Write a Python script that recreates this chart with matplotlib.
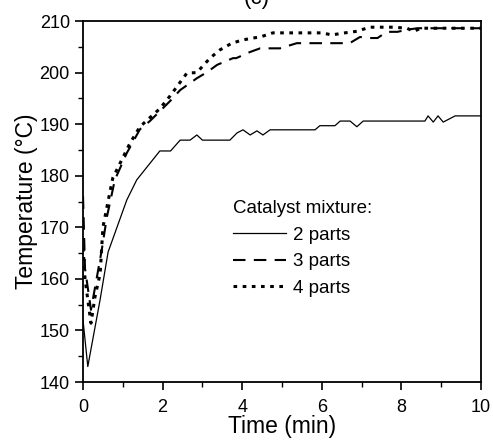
import matplotlib
matplotlib.use("Agg")
import matplotlib.pyplot as plt
from matplotlib.ticker import MultipleLocator

plt.rcParams['font.family'] = ['Liberation Sans', 'DejaVu Sans']

# 2 parts catalyst (solid)
t_two = [0.0, 0.12, 0.43, 0.63, 1.1, 1.35, 1.93, 2.2, 2.44, 2.69, 2.86, 3.0, 3.69,
         3.87, 4.02, 4.2, 4.37, 4.52, 4.7, 5.83, 5.95, 6.33, 6.46, 6.71, 6.88, 7.04,
         8.59, 8.67, 8.8, 8.92, 9.05, 9.35, 10.0]
temp_two = [152, 143, 156, 165.2, 175.3, 179.2, 184.8, 184.8, 186.9, 186.9, 187.9, 186.9, 186.9,
            188.3, 188.9, 187.9, 188.7, 187.9, 188.9, 188.9, 189.7, 189.7, 190.6, 190.6, 189.5, 190.6,
            190.6, 191.6, 190.4, 191.6, 190.4, 191.6, 191.6]

# 3 parts catalyst (dashed)
t_three = [0.0, 0.05, 0.2, 0.35, 0.47, 0.6, 0.8, 1.1, 1.43, 1.68, 1.93, 2.19, 2.44, 2.86,
           3.12, 3.37, 3.77, 3.85, 4.2, 4.45, 4.95, 5.37, 5.7, 6.2, 6.7, 6.96, 7.2, 7.4,
           7.63, 7.9, 8.14, 8.4, 10.0]
temp_three = [176, 162, 154, 160.4, 165.6, 172, 179.2, 184.4, 189.0, 190.6, 192.5, 194.5, 196.6, 198.9,
              200.1, 201.5, 202.8, 202.8, 204.0, 204.7, 204.7, 205.7, 205.7, 205.7, 205.7, 206.9, 206.7, 206.7,
              207.9, 207.9, 208.3, 208.6, 208.6]

# 4 parts catalyst (dotted)
t_four = [0.0, 0.05, 0.2, 0.3, 0.43, 0.5, 0.68, 0.75, 1.18, 1.43, 1.93, 2.19, 2.61, 2.86,
          3.19, 3.44, 3.74, 4.0, 4.27, 4.45, 4.77, 5.1, 5.75, 6.0, 6.25, 6.58, 6.88, 7.2,
          7.8, 8.14, 8.3, 8.5, 10.0]
temp_four = [166, 160, 151.4, 156.5, 161, 170, 177, 179.6, 186.3, 189.5, 193.0, 195.5, 199.9, 200.0,
             202.8, 204.4, 205.7, 206.3, 206.7, 206.9, 207.7, 207.7, 207.7, 207.7, 207.3, 207.7, 208.0, 208.8,
             208.8, 208.6, 208.0, 208.6, 208.6]

fig = plt.figure(figsize=(4.93, 4.44), dpi=100)
ax = fig.add_axes([0.1684, 0.1396, 0.8073, 0.8131])

ax.plot(t_two, temp_two, color='black', lw=0.9, label='2 parts')
ax.plot(t_three, temp_three, color='black', lw=1.5, dashes=(6, 4), label='3 parts')
ax.plot(t_four, temp_four, color='black', lw=2.2, dashes=(1.2, 1.8), label='4 parts')

ax.set_xlim(0, 10)
ax.set_ylim(140, 210)
ax.xaxis.set_major_locator(MultipleLocator(2))
ax.xaxis.set_minor_locator(MultipleLocator(1))
ax.yaxis.set_major_locator(MultipleLocator(10))
ax.yaxis.set_minor_locator(MultipleLocator(5))
ax.tick_params(which='major', direction='out', length=6, width=1.2, labelsize=13,
               top=False, right=False)
ax.tick_params(axis='y', which='major', pad=3.5)
ax.tick_params(axis='x', which='major', pad=6.5)
ax.tick_params(which='minor', direction='out', length=3.5, width=1.0, top=False, right=False)
for s in ax.spines.values():
    s.set_linewidth(1.3)

ax.set_xlabel('Time (min)', fontsize=16.5, labelpad=-1)
ax.set_ylabel('Temperature (°C)', fontsize=16.5, labelpad=1)

leg = ax.legend(title='Catalyst mixture:', frameon=False, fontsize=13.5, title_fontsize=13.5,
                handlelength=2.8, handletextpad=0.37, labelspacing=0.5, alignment='left',
                loc='upper left', bbox_to_anchor=(0.335, 0.55))

fig.text(0.52, 1 - 4 / 444, '(c)', fontsize=16, ha='center', va='baseline')

fig.savefig('out.png', dpi=100)
